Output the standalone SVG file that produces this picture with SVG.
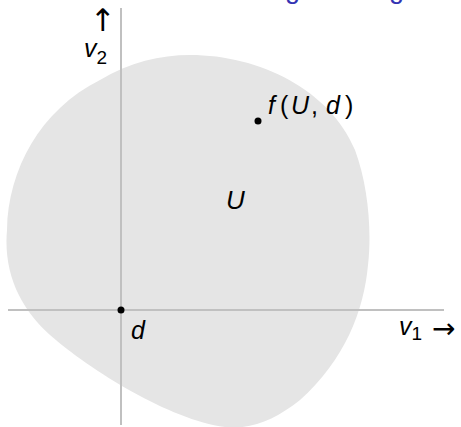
<svg xmlns="http://www.w3.org/2000/svg" width="461" height="427" viewBox="0 0 461 427">
<style>
.t{font-family:"Liberation Sans",Arial,sans-serif;font-size:25px;fill:#000}
.i{font-style:italic}
.n{font-style:normal}
.ar{font-family:"DejaVu Sans",sans-serif;fill:#000}
.ax{stroke:#c0c0c0;stroke-width:2;fill:none}
.ti{font-family:"Liberation Sans",Arial,sans-serif;font-size:27px;fill:#3333b3}
</style>
<rect width="461" height="427" fill="#fff"/>
<text class="ti" x="285" y="-2">g</text>
<text class="ti" x="389" y="-2">g</text>
<g id="U">
<path d="M190,55 C260,55 330,90 355,150 C368,185 372,230 368,265 C364,310 345,360 300,400 C275,420 250,430 225,427 C170,420 90,370 50,335 C22,310 3,275 7,230 C8,170 40,110 100,80 C130,62 160,55 190,55 Z" fill="#e5e5e5"/>
<text class="t i" x="226" y="209" style="font-size:26px">U</text>
</g>
<g id="connectors">
<line class="ax" x1="8" y1="310" x2="444" y2="310"/>
<line class="ax" x1="121" y1="8" x2="121" y2="425"/>
</g>
<g id="v2">
<text class="ar" x="90" y="31" font-size="31">↑</text>
<text class="t i" x="84" y="57">v<tspan class="n" font-size="19" dy="7">2</tspan></text>
</g>
<g id="v1">
<text class="t i" x="399" y="335">v<tspan class="n" font-size="19" dy="5">1</tspan></text>
<text class="ar" x="432" y="338" font-size="28">→</text>
</g>
<g id="d">
<circle cx="121" cy="310" r="3.5" fill="#000"/>
<text class="t i" x="131" y="339">d</text>
</g>
<g id="f">
<circle cx="258" cy="121" r="3.5" fill="#000"/>
<text class="t i" y="114"><tspan x="268">f</tspan><tspan class="n" x="280">(</tspan><tspan x="291">U</tspan><tspan class="n" x="311">,</tspan><tspan x="326">d</tspan><tspan class="n" x="345">)</tspan></text>
</g>
</svg>
